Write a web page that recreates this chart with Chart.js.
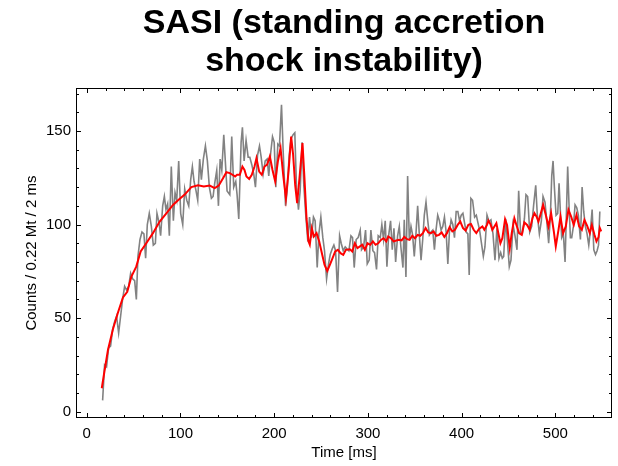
<!DOCTYPE html>
<html>
<head>
<meta charset="utf-8">
<script src="https://cdn.jsdelivr.net/npm/chart.js@4"></script>
<style>
  html, body { margin: 0; padding: 0; background: #fff; }
  canvas { display: block; }
</style>
</head>
<body>
<canvas id="sasi" width="618" height="466"></canvas>
<script>
// raw counts per 2 ms bin (gray) and smoothed curve (red)
const rawTime = [
  16.9, 19.0, 21.1, 23.3, 25.4, 27.6, 29.7, 31.8, 34.0, 36.1, 38.2, 40.4, 42.5, 44.7, 46.8, 48.9, 51.1, 52.9, 54.6, 56.8,
  58.9, 61.0, 62.8, 64.6, 66.7, 68.9, 71.0, 73.2, 74.9, 77.1, 78.8, 81.0, 82.8, 84.5, 86.3, 88.1, 90.2, 92.4, 94.2, 96.0,
  98.1, 100.2, 102.4, 104.5, 106.7, 108.8, 110.9, 112.7, 114.5, 116.6, 118.4, 120.5, 122.3, 124.4, 126.6, 128.7, 130.8, 133.0, 134.8, 136.5,
  138.7, 140.5, 142.3, 144.1, 146.2, 149.7, 152.6, 154.7, 156.8, 159.0, 160.4, 162.2, 164.7, 166.1, 167.9, 170.0, 172.2, 174.0, 176.1, 178.2,
  180.0, 182.2, 184.3, 186.1, 188.2, 190.4, 192.5, 194.2, 196.2, 198.2, 200.0, 201.7, 203.9, 205.6, 207.8, 209.6, 212.1, 213.8, 216.0, 218.1,
  220.2, 222.0, 223.8, 225.9, 227.7, 229.8, 231.6, 233.7, 235.9, 237.7, 239.8, 241.9, 243.7, 245.9, 247.7, 249.8, 251.9, 253.7, 255.9, 258.0,
  259.8, 261.9, 263.7, 265.5, 267.6, 269.8, 271.5, 273.7, 275.8, 277.6, 279.7, 281.9, 283.6, 285.4, 287.5, 289.6, 291.8, 293.2, 295.4, 297.5,
  299.3, 301.4, 303.2, 305.3, 307.1, 309.2, 311.0, 313.2, 314.9, 316.7, 318.5, 320.3, 322.1, 324.2, 326.0, 327.8, 329.6, 331.7, 333.5, 335.2,
  337.4, 338.8, 340.6, 342.4, 344.2, 346.0, 347.7, 349.5, 351.3, 353.1, 354.9, 356.7, 358.5, 360.2, 362.0, 363.8, 365.6, 367.4, 369.2, 371.0,
  372.7, 374.5, 376.3, 378.1, 379.9, 381.7, 383.5, 385.3, 387.0, 388.8, 390.6, 392.4, 394.2, 396.0, 397.8, 399.6, 401.4, 403.1, 404.9, 406.7,
  408.1, 409.9, 411.7, 413.9, 415.7, 417.4, 419.2, 423.2, 424.9, 427.1, 429.2, 431.3, 433.5, 435.6, 437.7, 439.9, 441.7, 443.4, 444.9, 447.0,
  449.2, 450.9, 452.7, 454.9, 457.0, 459.1, 460.9, 463.0, 464.8, 467.0, 468.7, 470.5, 472.7, 474.8, 476.9, 479.1, 480.8, 483.0, 485.1, 486.9,
  489.0, 491.2, 492.9, 494.7, 496.2, 497.6, 499.0, 500.8, 502.6, 504.0, 505.4, 506.8, 508.6, 510.4, 511.8, 513.2, 514.6, 516.1, 517.5, 519.3,
  521.1, 522.9, 524.6, 526.8, 528.6, 530.3, 532.1, 533.9, 535.7, 537.5, 539.3, 541.1, 542.9, 544.6, 546.1, 547.5
];
const rawCounts = [
  6, 25, 24, 34, 35, 44, 48, 51, 42, 51, 60, 67, 65, 67, 74, 71, 70, 60, 83, 92,
  96, 95, 82, 100, 106, 99, 89, 90, 106, 101, 94, 110, 115, 108, 111, 94, 131, 102, 117, 113,
  134, 106, 100, 119, 113, 110, 124, 131, 123, 118, 113, 135, 124, 135, 142, 134, 120, 114, 115, 122,
  129, 110, 135, 129, 148, 118, 116, 147, 120, 123, 116, 103, 144, 152, 134, 145, 136, 136, 132, 127,
  120, 137, 142, 136, 127, 134, 135, 126, 138, 147, 144, 120, 143, 142, 164, 139, 110, 118, 137, 146,
  148, 149, 120, 108, 118, 144, 121, 105, 91, 104, 93, 104, 102, 77, 95, 104, 93, 86, 71, 79,
  84, 87, 89, 86, 64, 94, 90, 86, 88, 87, 86, 94, 93, 77, 92, 93, 97, 86.5, 88, 97,
  79, 81, 97, 86, 85, 76, 94, 93, 100, 92, 102, 77.5, 94, 102, 86.5, 98, 80, 94, 99, 88,
  77, 102.5, 72, 126, 92, 99, 94.5, 83, 95, 110, 94.5, 81, 92, 105, 112, 102.5, 94.5, 96, 97, 86.5,
  97, 105, 102, 97, 99, 104, 96, 79, 96, 102.5, 100, 93, 107, 107, 102, 105, 106, 101, 96, 95,
  73, 114, 113, 104, 105, 101, 97, 83, 88, 105, 101.6, 102.5, 95, 81, 98, 82, 85, 82, 83, 103,
  89, 77.5, 81, 100, 94, 86.5, 118, 95, 95, 103, 116, 115, 96, 99, 110.5, 121, 105, 95, 102, 115,
  112, 100, 90, 104, 126, 134, 120, 105, 106, 122, 107, 93, 95, 80, 105, 131, 111, 93, 93, 99,
  110.5, 109, 105, 92, 120, 107, 99, 95, 89, 97, 108, 86.5, 84, 86, 89, 107
];
const smoothTime = [
  16, 19, 22.6, 27.9, 33.3, 38.6, 43.2, 47.5, 52.8, 57.5, 63.5, 70.6, 77.8, 84.9, 92, 97.4, 104.5, 111.6, 118.7, 124.9,
  131.2, 136.5, 140.8, 145.4, 149, 152.6, 155.4, 158.3, 160.4, 163.3, 166.1, 168.3, 170.4, 173.3, 176.1, 179, 181.1, 184, 186.8, 189.7,
  192.5, 195.4, 198.2, 201.1, 203.9, 206.8, 209.6, 212.5, 215.3, 218.1, 220.2, 222.4, 224.5, 227.3, 230.2, 232.3, 234.5, 236.6, 238, 240.2,
  242.3, 245.2, 248, 250.9, 253.7, 256.6, 259.4, 262.3, 265.1, 268, 270.8, 273.7, 276.5, 280.8, 283.3, 286.1, 288.9, 291.5, 294, 296.8,
  299.6, 302.5, 305.3, 308.2, 311, 313.9, 316.7, 319.6, 321.7, 324.6, 327.4, 330.3, 333.1, 336, 338.8, 341.7, 344.5, 347.4, 350.2, 353.1,
  355.9, 358.7, 361.6, 364.4, 367.3, 370.1, 373, 375.9, 378.7, 381.6, 384.4, 387.2, 390.1, 392.9, 395.8, 398.6, 401.5, 404.3, 407.2, 410,
  412.9, 415.7, 418.6, 422.2, 424.3, 427.1, 428.6, 430.7, 432.8, 435, 437.1, 439.2, 441.4, 443.5, 446.4, 448.5, 451.4, 453.5, 456.3, 458.5,
  461.3, 464.2, 467, 469.9, 472.7, 475.6, 477.7, 479.9, 482, 484.1, 487, 489.8, 492.7, 495.5, 498.4, 500.5, 503.4, 505.5, 508.3, 511.2,
  514, 516.9, 519.7, 522.6, 525.4, 528.3, 531.1, 534, 536.8, 539, 541.8, 543.9, 546.1, 547.5, 549
];
const smoothCounts = [
  12.5, 22, 33, 44, 53, 61, 64, 72, 77.5, 85.6, 90, 95.4, 101.6, 106, 110.5, 113, 116, 120, 121, 120.3,
  120.8, 119.5, 120.8, 124.8, 128, 127.5, 126.6, 125.7, 126.6, 126.6, 131, 129.2, 125.7, 124.4, 126.6, 131, 135.5, 128.3, 126.6, 131,
  132, 136.4, 129.2, 123, 133.7, 140.8, 126.6, 114, 128.3, 147, 137.3, 121.2, 111.4, 126.6, 143.5, 124.8, 103.4, 91, 89.2, 98,
  93.6, 95.4, 91, 84.7, 78.5, 75.2, 78.5, 82, 85.6, 86.5, 84.7, 83.8, 86.5, 86.8, 85.6, 90, 87.4, 88.3, 89.2, 86.5,
  90, 89.2, 91, 89.2, 90, 91.8, 92.7, 91, 93.6, 92.7, 91, 91.5, 91.8, 91.5, 93.4, 92.2, 91.8, 94, 92.7, 94.5,
  94, 95.4, 98.1, 95.8, 95.4, 96.3, 94, 94.5, 95.8, 93.4, 95.4, 98.6, 96.3, 97.2, 99.8, 101.6, 98.1, 96.8, 99.8, 100.3,
  97.2, 95.4, 97.6, 99, 97.2, 99.8, 102.1, 100.3, 97.2, 99, 100.7, 95.4, 90, 92.7, 102.8, 99.8, 87.4, 95.4, 103.4, 99.8,
  95.4, 94.5, 101.1, 99.8, 97.2, 103.4, 106.1, 104.3, 101.6, 105.2, 110.5, 105.2, 99, 106.1, 96.3, 88.3, 97.2, 104.3, 95.4, 99,
  107.9, 104.3, 99.8, 105.2, 99, 97.2, 102.5, 99.3, 95.4, 99.8, 94.5, 91, 93.2, 98.1, 96.3
];
const xTickValues = [0, 100, 200, 300, 400, 500];
const yTickValues = [0, 50, 100, 150];

const FONT = "'Liberation Sans', Arial, Helvetica, sans-serif";

// Mathematica-style frame: box plus inward ticks on all four sides
const frameTicks = {
  id: "frameTicks",
  afterLayout(chart) {
    const t = chart.titleBlock;
    if (!t) return;
    t.left = chart.chartArea.left;
    t.right = chart.chartArea.right;
    t.width = t.right - t.left;
  },
  afterDatasetsDraw(chart) {
    const { ctx, chartArea: a } = chart;
    const x = chart.scales.x, y = chart.scales.y;
    const L = Math.round(a.left) + 0.5, R = Math.round(a.right) - 0.5;
    const T = Math.round(a.top) + 0.5, B = Math.round(a.bottom) - 0.5;
    ctx.save();
    ctx.strokeStyle = "#000";
    ctx.lineWidth = 1;
    ctx.strokeRect(L, T, R - L, B - T);
    ctx.beginPath();
    for (let v = 0; v <= 560; v += 20) {
      const px = Math.round(x.getPixelForValue(v)) + 0.5;
      if (px < L || px > R) continue;
      const len = v % 100 === 0 ? 4.5 : 2.5;
      ctx.moveTo(px, B); ctx.lineTo(px, B - len);
      ctx.moveTo(px, T); ctx.lineTo(px, T + len);
    }
    for (let v = 0; v <= 170; v += 10) {
      const py = Math.round(y.getPixelForValue(v)) + 0.5;
      if (py < T || py > B) continue;
      const len = v % 50 === 0 ? 4.5 : 2.5;
      ctx.moveTo(L, py); ctx.lineTo(L + len, py);
      ctx.moveTo(R, py); ctx.lineTo(R - len, py);
    }
    ctx.stroke();
    ctx.restore();
  }
};

new Chart(document.getElementById("sasi"), {
  type: "line",
  data: {
    datasets: [
      {
        data: smoothTime.map((t, i) => ({ x: t, y: smoothCounts[i] })),
        borderColor: "#ff0000",
        borderWidth: 2,
        pointRadius: 0,
        tension: 0,
        order: 0,
      },
      {
        data: rawTime.map((t, i) => ({ x: t, y: rawCounts[i] })),
        borderColor: "#828282",
        borderWidth: 1.6,
        pointRadius: 0,
        tension: 0,
        order: 1,
      },
    ],
  },
  options: {
    responsive: false,
    animation: false,
    devicePixelRatio: 1,
    layout: { padding: { top: 0, right: 6, bottom: 0, left: 0 } },
    plugins: {
      legend: { display: false },
      tooltip: { enabled: false },
      title: {
        display: true,
        text: ["SASI (standing accretion", "shock instability)"],
        color: "#000",
        font: { family: FONT, size: 34, weight: "bold", lineHeight: 1.12 },
        padding: { top: 5, bottom: 7 },
      },
    },
    scales: {
      x: {
        type: "linear",
        min: -11.5,
        max: 560.5,
        grid: { display: false, drawTicks: false },
        border: { display: false },
        afterBuildTicks: (s) => { s.ticks = xTickValues.map((v) => ({ value: v })); },
        afterFit: (s) => { s.height = 48; },
        ticks: { color: "#000", padding: 7, maxRotation: 0, font: { family: FONT, size: 15 } },
        title: {
          display: true,
          text: "Time [ms]",
          color: "#000",
          font: { family: FONT, size: 15 },
          padding: { top: 0, bottom: 4 },
        },
      },
      y: {
        type: "linear",
        min: -3.4,
        max: 172.9,
        grid: { display: false, drawTicks: false },
        border: { display: false },
        afterBuildTicks: (s) => { s.ticks = yTickValues.map((v) => ({ value: v })); },
        afterFit: (s) => { s.width = 76; },
        ticks: { color: "#000", padding: 5, font: { family: FONT, size: 15 } },
        title: {
          display: true,
          text: "Counts / 0.22 Mt / 2 ms",
          color: "#000",
          font: { family: FONT, size: 15 },
          padding: { top: 23, bottom: 0 },
        },
      },
    },
  },
  plugins: [frameTicks],
});
</script>
</body>
</html>
